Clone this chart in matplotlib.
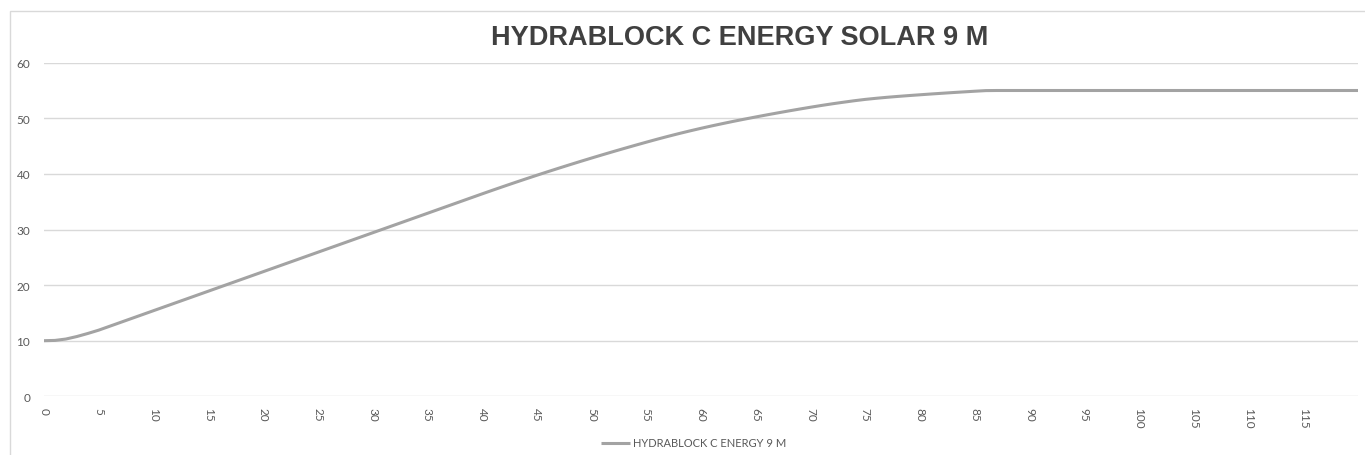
import matplotlib
matplotlib.use("Agg")
import matplotlib.pyplot as plt
from matplotlib.patches import Rectangle

title = "HYDRABLOCK C ENERGY SOLAR 9 M"
series_name = "HYDRABLOCK C ENERGY 9 M"

x_values = list(range(0, 121))
y_values = [
    10.0, 10.05, 10.3, 10.75, 11.3, 11.9, 12.6, 13.3, 14.0, 14.7,
    15.4, 16.1, 16.8, 17.5, 18.2, 18.9, 19.6, 20.3, 21.0, 21.7,
    22.4, 23.1, 23.8, 24.5, 25.2, 25.9, 26.6, 27.3, 28.0, 28.7,
    29.4, 30.1, 30.8, 31.5, 32.2, 32.9, 33.6, 34.3, 35.0, 35.7,
    36.4, 37.09, 37.77, 38.44, 39.1, 39.75, 40.39, 41.02, 41.64, 42.25,
    42.85, 43.44, 44.02, 44.59, 45.15, 45.7, 46.24, 46.76, 47.26, 47.74,
    48.2, 48.64, 49.06, 49.47, 49.86, 50.24, 50.61, 50.97, 51.32, 51.66,
    51.99, 52.31, 52.61, 52.89, 53.16, 53.4, 53.6, 53.78, 53.94, 54.09,
    54.23, 54.37, 54.5, 54.63, 54.75, 54.87, 54.98, 55.0, 55.0, 55.0,
    55.0, 55.0, 55.0, 55.0, 55.0, 55.0, 55.0, 55.0, 55.0, 55.0,
    55.0, 55.0, 55.0, 55.0, 55.0, 55.0, 55.0, 55.0, 55.0, 55.0,
    55.0, 55.0, 55.0, 55.0, 55.0, 55.0, 55.0, 55.0, 55.0, 55.0,
    55.0,
]
x_ticks = list(range(0, 120, 5))
y_ticks = [0, 10, 20, 30, 40, 50, 60]

W, H = 1365, 456
fig = plt.figure(figsize=(W / 100, H / 100), dpi=100)

# outer chart border
fig.patches.append(Rectangle((10 / W, -0.05), 1.2, 1 - 12 / H + 0.05,
                             transform=fig.transFigure, fill=False,
                             edgecolor="#D9D9D9", linewidth=1.0))

ax = fig.add_axes([44 / W, 1 - 397.3 / H, (1358 - 44) / W, (397.3 - 63.7) / H])
ax.plot(x_values, y_values, color="#A3A3A3", linewidth=2.2,
        solid_capstyle="butt", label=series_name, zorder=3)

ax.set_xlim(0, 120)
ax.set_ylim(0, 60)
ax.set_xticks(x_ticks)
ax.set_xticklabels([str(t) for t in x_ticks], rotation=-90,
                   fontsize=8.5, color="#595959", family="Lato")
ax.set_yticks(y_ticks)
ax.set_yticklabels([str(t) for t in y_ticks], fontsize=8.5,
                   color="#595959", family="Lato")
ax.tick_params(axis="both", length=0)
ax.tick_params(axis="x", pad=8)
ax.tick_params(axis="y", pad=10)
ax.grid(axis="y", color="#D9D9D9", linewidth=1.0)
ax.set_axisbelow(True)
for s in ax.spines.values():
    s.set_visible(False)

fig.text(740 / W, 1 - 38 / H, title, ha="center", va="center",
         fontsize=19.5, fontweight="bold", color="#404040",
         family="Liberation Sans")

fig.legend(loc="center", bbox_to_anchor=(694 / W, 1 - 444 / H),
           frameon=False, prop={"family": "Lato", "size": 8},
           labelcolor="#595959", handlelength=2.6, handletextpad=0.3)

fig.savefig("out.png", dpi=100)
